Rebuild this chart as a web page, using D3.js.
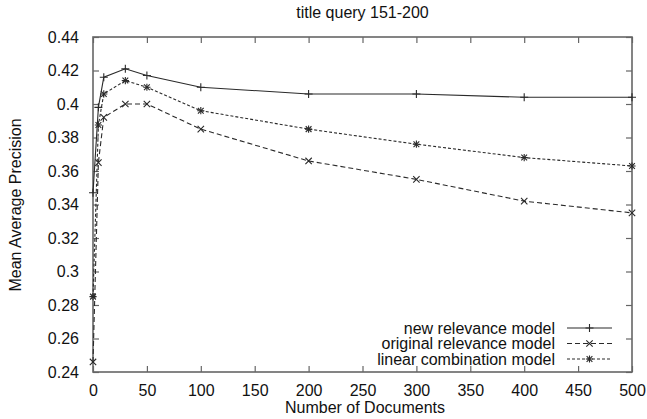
<!DOCTYPE html>
<html><head><meta charset="utf-8">
<script src="https://cdn.jsdelivr.net/npm/d3@7"></script>
<style>
body{margin:0;background:#fff;}
text{font-family:"Liberation Sans",Arial,sans-serif;fill:#111;}
</style></head>
<body><svg id="c" width="647" height="419"></svg>
<script>
const docs = [0, 5, 10, 30, 50, 100, 200, 300, 400, 500];
const newModel = [0.347, 0.398, 0.416, 0.421, 0.417, 0.410, 0.406, 0.406, 0.404, 0.404];
const originalModel = [0.246, 0.365, 0.392, 0.400, 0.400, 0.385, 0.366, 0.355, 0.342, 0.335];
const linearModel = [0.285, 0.3875, 0.406, 0.414, 0.410, 0.396, 0.385, 0.376, 0.368, 0.363];
const xTicks = [0, 50, 100, 150, 200, 250, 300, 350, 400, 450, 500];
const yTicks = [0.24, 0.26, 0.28, 0.3, 0.32, 0.34, 0.36, 0.38, 0.4, 0.42, 0.44];
const seriesNames = ["new relevance model", "original relevance model", "linear combination model"];

const svg = d3.select("#c");
const L = 93, R = 632, T = 37, B = 372;
const x = d3.scaleLinear().domain([0, 500]).range([L, R]);
const y = d3.scaleLinear().domain([0.24, 0.44]).range([B, T]);
const frameColor = "#666";
const lineColor = "#2a2a2a";
const fs = 16;

// axes with inward ticks
const tl = 6;
const gB = svg.append("g").attr("transform", `translate(0,${B})`)
  .call(d3.axisBottom(x).tickValues(xTicks).tickSizeInner(-tl).tickSizeOuter(0).tickPadding(13).tickFormat(d3.format("d")));
const gT = svg.append("g").attr("transform", `translate(0,${T})`)
  .call(d3.axisTop(x).tickValues(xTicks).tickSizeInner(-tl).tickSizeOuter(0).tickFormat(""));
const gL = svg.append("g").attr("transform", `translate(${L},0)`)
  .call(d3.axisLeft(y).tickValues(yTicks).tickSizeInner(-tl).tickSizeOuter(0).tickPadding(14).tickFormat(d => String(+d.toFixed(2))));
const gR = svg.append("g").attr("transform", `translate(${R},0)`)
  .call(d3.axisRight(y).tickValues(yTicks).tickSizeInner(-tl).tickSizeOuter(0).tickFormat(""));
[gB, gT, gL, gR].forEach(g => {
  g.select(".domain").remove();
  g.selectAll(".tick line").attr("stroke", frameColor).attr("stroke-width", 1.2);
  g.selectAll("text").attr("font-size", fs).attr("font-family", "Liberation Sans, Arial, sans-serif").attr("fill", "#111");
});

// frame
svg.append("rect").attr("x", L).attr("y", T).attr("width", R - L).attr("height", B - T)
  .attr("fill", "none").attr("stroke", frameColor).attr("stroke-width", 1.6);

// title & labels
svg.append("text").attr("x", (L + R) / 2).attr("y", 18).attr("text-anchor", "middle").attr("font-size", fs).text("title query 151-200");
svg.append("text").attr("x", 365).attr("y", 413).attr("text-anchor", "middle").attr("font-size", fs).text("Number of Documents");
svg.append("text").attr("transform", "translate(21,205) rotate(-90)").attr("text-anchor", "middle").attr("font-size", fs).text("Mean Average Precision");

// markers
function plus(g, cx, cy, s) { g.append("path").attr("d", `M${cx - s},${cy}H${cx + s}M${cx},${cy - s}V${cy + s}`); }
function cross(g, cx, cy, s) { g.append("path").attr("d", `M${cx - s},${cy - s}L${cx + s},${cy + s}M${cx - s},${cy + s}L${cx + s},${cy - s}`); }
function star(g, cx, cy, s) { plus(g, cx, cy, s); cross(g, cx, cy, s * 0.8); }

const series = [
  { name: seriesNames[0], vals: newModel, dash: null, mk: plus, ms: 4 },
  { name: seriesNames[1], vals: originalModel, dash: "5,3", mk: cross, ms: 3.2 },
  { name: seriesNames[2], vals: linearModel, dash: "3,2", mk: star, ms: 3.6 }
];
const line = d3.line().x(d => x(d[0])).y(d => y(d[1]));
series.forEach((s, i) => {
  const pts = docs.map((d, j) => [d, s.vals[j]]);
  svg.append("path").datum(pts).attr("d", line).attr("fill", "none")
    .attr("stroke", lineColor).attr("stroke-width", 1.1)
    .attr("stroke-dasharray", s.dash);
  const mg = svg.append("g").attr("stroke", lineColor).attr("stroke-width", 1.1).attr("fill", "none");
  pts.forEach(p => s.mk(mg, x(p[0]), y(p[1]), s.ms));

  // legend
  const ly = 328 + i * 15.5;
  svg.append("text").attr("x", 555).attr("y", ly + 5.5).attr("text-anchor", "end").attr("font-size", fs).text(s.name);
  svg.append("line").attr("x1", 567).attr("x2", 612).attr("y1", ly).attr("y2", ly)
    .attr("stroke", lineColor).attr("stroke-width", 1.1).attr("stroke-dasharray", s.dash);
  const lg = svg.append("g").attr("stroke", lineColor).attr("stroke-width", 1.1).attr("fill", "none");
  s.mk(lg, 589.5, ly, s.ms);
});
</script></body></html>
